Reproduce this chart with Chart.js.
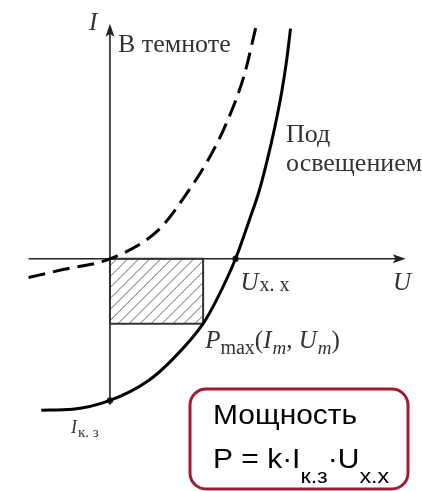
<!DOCTYPE html>
<html lang="ru">
  <head>
    <meta charset="UTF-8" />
    <title>ВАХ солнечного элемента</title>
    <style>
    body { margin: 0; background: #fff; }
    #wrap { width: 422px; height: 491px; }
    </style>
    <script src="https://cdn.jsdelivr.net/npm/chart.js@4.4.0/dist/chart.umd.min.js"></script>
  </head>
  <body>
    <div id="wrap"><canvas id="chart"></canvas></div>

    <script>
      // current-voltage curves, U in units of U_xx, I in units of |I_kz|
      const lightU = [-0.547, -0.297, 0, 0.305, 0.508, 0.742, 0.852, 1.0, 1.109, 1.188, 1.25, 1.313, 1.367, 1.406, 1.438];
      const lightI = [-1.069, -1.062, -1.0, -0.861, -0.701, -0.458, -0.285, 0, 0.271, 0.479, 0.688, 0.931, 1.174, 1.396, 1.625];

      const darkU = [-0.648, -0.375, 0, 0.383, 0.625, 0.797, 0.938, 1.070, 1.172];
      const darkI = [-0.132, -0.076, 0, 0.201, 0.479, 0.722, 0.979, 1.299, 1.674];

      // open circuit voltage, short circuit current, max power point
      const Uxx = 1.0;
      const Ikz = -1.0;
      const Um = 0.742;
      const Im = -0.458;

      const toPts = (xs, ys) => xs.map((x, i) => ({x: x, y: ys[i]}));

      const SERIF = '"Liberation Serif", "Times New Roman", serif';
      const SANS = '"Liberation Sans", Arial, sans-serif';

      // axes with arrows + hatched power rectangle
      const axesPlugin = {
        id: 'axes',
        beforeDatasetsDraw(chart) {
          const ctx = chart.ctx;
          const xs = chart.scales.x, ys = chart.scales.y;
          const x0 = xs.getPixelForValue(0), y0 = ys.getPixelForValue(0);
          const xm = xs.getPixelForValue(Um), ym = ys.getPixelForValue(Im);

          // hatching
          ctx.save();
          ctx.beginPath();
          ctx.rect(x0, y0, xm - x0, ym - y0);
          ctx.clip();
          ctx.strokeStyle = '#666';
          ctx.lineWidth = 1;
          for (let k = x0 - 80; k < xm + 80; k += 11) {
            ctx.beginPath();
            ctx.moveTo(k, ym);
            ctx.lineTo(k + (ym - y0), y0);
            ctx.stroke();
          }
          ctx.restore();

          ctx.save();
          ctx.strokeStyle = '#222';
          ctx.fillStyle = '#222';
          ctx.lineWidth = 1.6;
          const top = ys.getPixelForValue(1.66), bottom = ys.getPixelForValue(-1.03);
          const left = xs.getPixelForValue(-0.648), right = xs.getPixelForValue(2.355);
          ctx.beginPath();
          ctx.moveTo(x0, bottom); ctx.lineTo(x0, top + 8);
          ctx.moveTo(left, y0); ctx.lineTo(right - 8, y0);
          ctx.stroke();
          // arrow heads
          ctx.beginPath();
          ctx.moveTo(x0, top); ctx.lineTo(x0 - 4.5, top + 13); ctx.lineTo(x0, top + 10); ctx.lineTo(x0 + 4.5, top + 13);
          ctx.closePath(); ctx.fill();
          ctx.beginPath();
          ctx.moveTo(right, y0); ctx.lineTo(right - 13, y0 - 4.5); ctx.lineTo(right - 10, y0); ctx.lineTo(right - 13, y0 + 4.5);
          ctx.closePath(); ctx.fill();
          ctx.restore();
        }
      };

      // italic letter with an upright (or italic) subscript, returns end x
      function label(ctx, x, y, main, sub, size, subSize, subDy, subItalic) {
        ctx.font = 'italic ' + size + 'px ' + SERIF;
        ctx.fillText(main, x, y);
        let cx = x + ctx.measureText(main).width + 1;
        if (sub) {
          ctx.font = (subItalic ? 'italic ' : '') + subSize + 'px ' + SERIF;
          ctx.fillText(sub, cx, y + subDy);
          cx += ctx.measureText(sub).width;
        }
        return cx;
      }

      const textPlugin = {
        id: 'texts',
        afterDraw(chart) {
          const ctx = chart.ctx;
          const xs = chart.scales.x, ys = chart.scales.y;
          const x0 = xs.getPixelForValue(0), y0 = ys.getPixelForValue(0);
          ctx.save();
          ctx.fillStyle = '#333';
          ctx.textBaseline = 'alphabetic';

          label(ctx, x0 - 21, 30, 'I', null, 25);
          ctx.font = '26px ' + SERIF;
          ctx.fillText('В темноте', 118, 52);
          ctx.fillText('Под', 286, 142);
          ctx.fillText('освещением', 286, 171);

          label(ctx, xs.getPixelForValue(Uxx) + 5, 290, 'U', 'х. х', 25, 20, 1, false);
          label(ctx, 393, 290, 'U', null, 25);
          label(ctx, 71, 433, 'I', 'к. з', 18, 15, 4, false);

          // P_max(I_m, U_m)
          let cx = xs.getPixelForValue(Um) + 2;
          let by = 348;
          ctx.font = 'italic 25px ' + SERIF;
          ctx.fillText('P', cx, by);
          cx += ctx.measureText('P').width;
          ctx.font = '20px ' + SERIF;
          ctx.fillText('max', cx, by + 6);
          cx += ctx.measureText('max').width;
          ctx.font = '25px ' + SERIF;
          ctx.fillText('(', cx, by);
          cx += ctx.measureText('(').width;
          cx = label(ctx, cx, by, 'I', 'm', 25, 19, 6, true);
          ctx.font = '25px ' + SERIF;
          ctx.fillText(', ', cx, by);
          cx += ctx.measureText(', ').width;
          cx = label(ctx, cx, by, 'U', 'm', 25, 19, 6, true);
          ctx.font = '25px ' + SERIF;
          ctx.fillText(')', cx, by);

          // power formula box
          ctx.strokeStyle = '#a31a35';
          ctx.lineWidth = 3;
          ctx.beginPath();
          ctx.roundRect(190, 389, 218, 100, 16);
          ctx.stroke();

          ctx.fillStyle = '#000';
          ctx.translate(213, 0);
          ctx.scale(1.11, 1);
          ctx.font = '27px ' + SANS;
          ctx.fillText('Мощность', 0, 424);
          let px = 0;
          const parts = [['P = k·I', 0, 27], ['к.з', 15, 21], ['·U', 0, 27], ['х.х', 15, 21]];
          parts.forEach(p => {
            ctx.font = p[2] + 'px ' + SANS;
            ctx.fillText(p[0], px, 468 + p[1]);
            px += ctx.measureText(p[0]).width;
          });
          ctx.restore();
        }
      };

      const ctx = document.getElementById('chart').getContext('2d');
      new Chart(ctx, {
        type: 'scatter',
        data: {
          datasets: [
            {
              label: 'Под освещением',
              data: toPts(lightU, lightI),
              showLine: true,
              borderColor: '#000',
              borderWidth: 3,
              pointRadius: 0,
              cubicInterpolationMode: 'monotone'
            },
            {
              label: 'В темноте',
              data: toPts(darkU, darkI),
              showLine: true,
              borderColor: '#000',
              borderWidth: 3,
              borderDash: [17, 8],
              pointRadius: 0,
              cubicInterpolationMode: 'monotone'
            },
            {
              label: 'P',
              data: toPts([0, Um, Um, 0, 0], [0, 0, Im, Im, 0]),
              showLine: true,
              borderColor: '#333',
              borderWidth: 2,
              pointRadius: 0,
              tension: 0
            },
            {
              label: 'points',
              data: toPts([0, Uxx], [Ikz, 0]),
              backgroundColor: '#222',
              borderWidth: 0,
              pointRadius: 3.2
            }
          ]
        },
        options: {
          responsive: true,
          maintainAspectRatio: false,
          animation: false,
          layout: { padding: 0 },
          plugins: { legend: { display: false }, tooltip: { enabled: false } },
          scales: {
            x: { type: 'linear', display: false, min: -0.84375, max: 2.453 },
            y: { type: 'linear', display: false, min: -1.611, max: 1.799 }
          }
        },
        plugins: [axesPlugin, textPlugin]
      });
    </script>
  </body>
</html>
